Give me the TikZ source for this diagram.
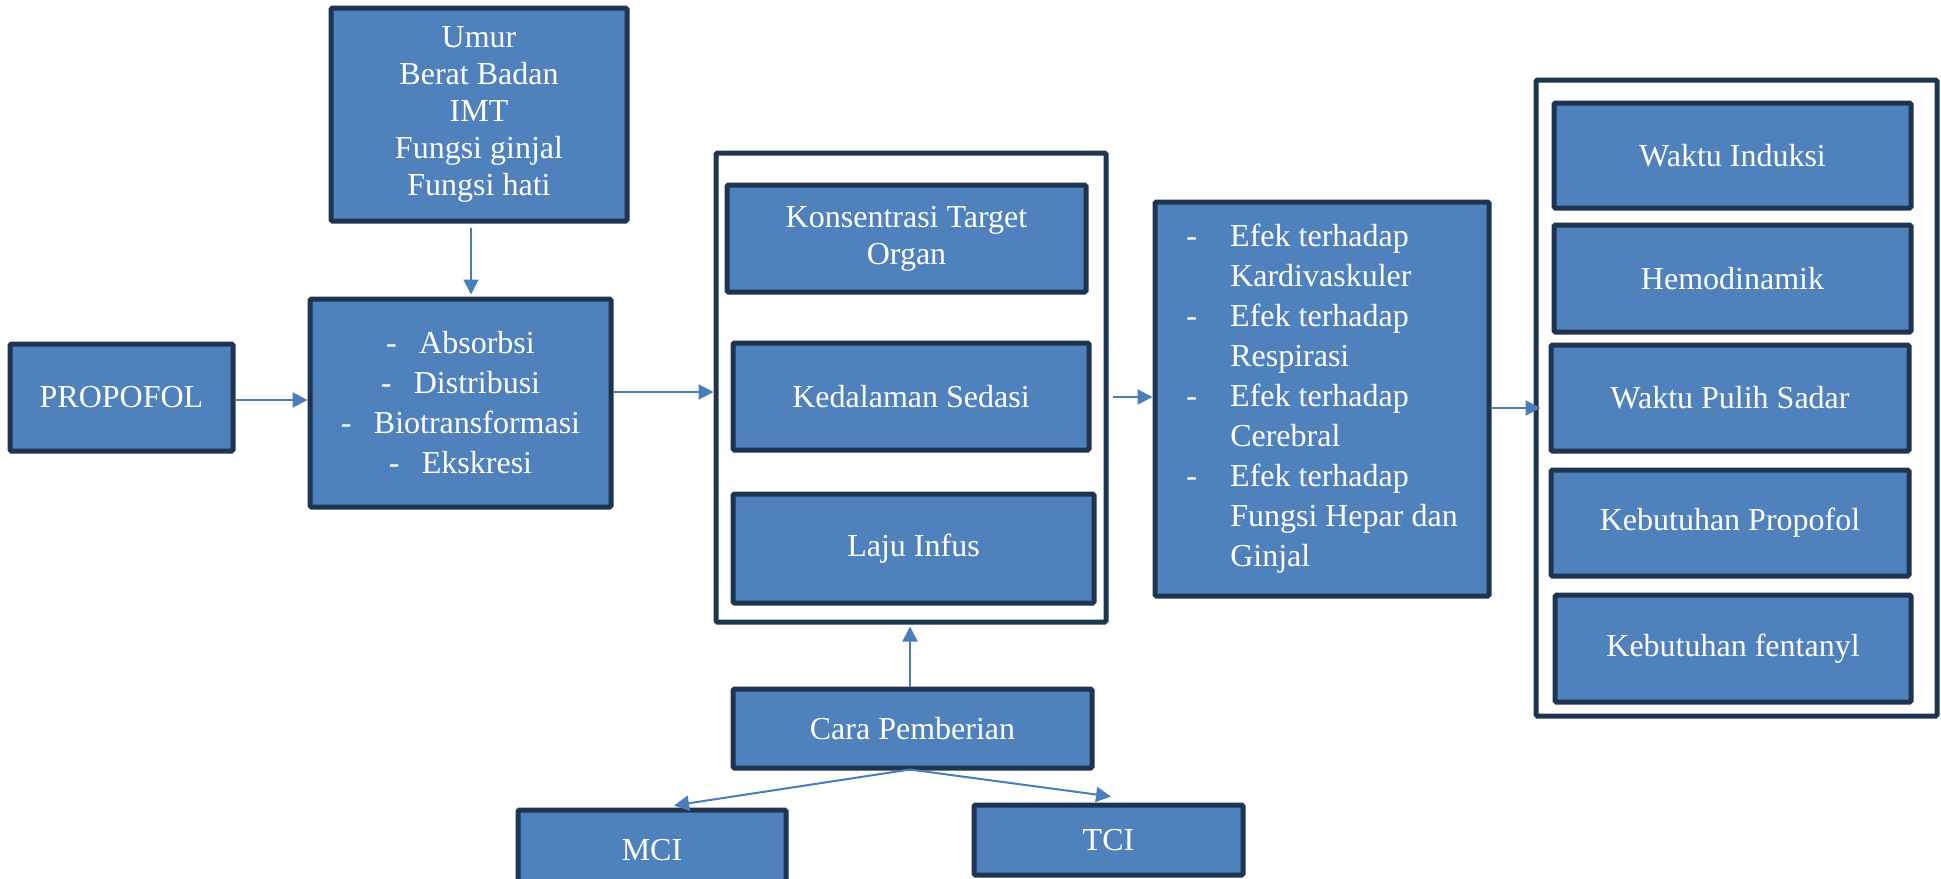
\documentclass[tikz,border=0pt]{standalone}
\usepackage{fontspec}
\setmainfont{Liberation Serif}
\usetikzlibrary{arrows.meta,calc}
\definecolor{boxfill}{HTML}{4F81BD}
\definecolor{boxline}{HTML}{1F3451}
\definecolor{arrcol}{HTML}{4A7EBB}
\tikzset{
  bx/.style={draw=boxline, fill=boxfill, line width=2.5pt, rounded corners=0.75pt, text=white, align=center,
    font=\fontsize{16pt}{18.5pt}\selectfont, inner sep=0pt},
  wide/.style={font=\fontsize{16pt}{20pt}\selectfont},
  frame/.style={draw=boxline, fill=white, line width=2.5pt, rounded corners=0.75pt},
  arr/.style={draw=arrcol, line width=1pt, -{Triangle[length=7.5pt,width=7.5pt]}}
}
\begin{document}
\begin{tikzpicture}[x=0.5pt,y=-0.5pt]
\useasboundingbox (0,0) rectangle (1941,878);
\clip (0,0) rectangle (1941,878);
% containers
\node[frame, minimum width=195pt, minimum height=234.5pt] (c1) at (911,387.5) {};
\node[frame, minimum width=200.5pt, minimum height=318pt] (c3) at (1736.5,398) {};
% left boxes
\node[bx, minimum width=148pt, minimum height=106.5pt] (umur) at (479,114.5)
  {Umur\\Berat Badan\\IMT\\Fungsi ginjal\\Fungsi hati};
\node[bx, minimum width=111.5pt, minimum height=53.5pt] (prop) at (121.5,397.5) {PROPOFOL};
\node[bx, wide, minimum width=150.5pt, minimum height=104pt] (abs) at (460.5,403)
  {-\hspace{0.7em}Absorbsi\\-\hspace{0.7em}Distribusi\\-\hspace{0.7em}Biotransformasi\\-\hspace{0.7em}Ekskresi};
% middle column
\node[bx, minimum width=179.5pt, minimum height=53.5pt] (kons) at (906.5,238.5) {Konsentrasi Target\\Organ};
\node[bx, minimum width=178pt, minimum height=53.5pt] (keda) at (911,396.5) {Kedalaman Sedasi};
\node[bx, minimum width=180.5pt, minimum height=54.5pt] (laju) at (913.5,548.5) {Laju Infus};
% effects
\node[bx, wide, align=left, minimum width=167pt, minimum height=197pt] (efek) at (1322,399)
  {\makebox[22pt][l]{-}Efek terhadap\\\hspace*{22pt}Kardivaskuler\\
   \makebox[22pt][l]{-}Efek terhadap\\\hspace*{22pt}Respirasi\\
   \makebox[22pt][l]{-}Efek terhadap\\\hspace*{22pt}Cerebral\\
   \makebox[22pt][l]{-}Efek terhadap\\\hspace*{22pt}Fungsi Hepar dan\\\hspace*{22pt}Ginjal};
% outcomes
\node[bx, minimum width=178.5pt, minimum height=52.5pt] (wi) at (1732.5,155.5) {Waktu Induksi};
\node[bx, minimum width=178.5pt, minimum height=53.5pt] (hemo) at (1732.5,278.5) {Hemodinamik};
\node[bx, minimum width=179pt, minimum height=53pt] (wps) at (1730,398) {Waktu Pulih Sadar};
\node[bx, minimum width=179pt, minimum height=53pt] (kp) at (1730,523) {Kebutuhan Propofol};
\node[bx, minimum width=178pt, minimum height=53.5pt] (kf) at (1733,648.5) {Kebutuhan fentanyl};
% bottom
\node[bx, minimum width=179.5pt, minimum height=39.5pt] (cara) at (912.5,728.5) {Cara Pemberian};
\node[bx, minimum width=134pt, minimum height=40pt] (mci) at (652,850) {MCI};
\node[bx, minimum width=134.5pt, minimum height=35pt] (tci) at (1108.5,840) {TCI};
% arrows
\draw[arr] ([xshift=-4pt,yshift=-2pt]umur.south) -- ([xshift=5.25pt,yshift=1pt]abs.north);
\draw[arr] ([yshift=-1.25pt]prop.east) -- ([yshift=1.5pt]abs.west);
\draw[arr] ([yshift=5.5pt]abs.east) -- ([yshift=-2.25pt]c1.west);
\draw[arr] ([xshift=2pt,yshift=-4.75pt]c1.east) -- ([yshift=1pt]efek.west);
\draw[arr] ([yshift=-4.5pt]efek.east) -- ([xshift=3.5pt,yshift=-5pt]c3.west);
\draw[arr] ([xshift=-1.25pt]cara.north) -- ([xshift=-0.5pt,yshift=-1pt]c1.south);
\draw[arr] ([xshift=-1.25pt,yshift=0.5pt]cara.south) -- ([xshift=11pt,yshift=1pt]mci.north);
\draw[arr] ([xshift=-1.25pt,yshift=0.5pt]cara.south) -- ([xshift=1.25pt,yshift=3pt]tci.north);
\end{tikzpicture}
\end{document}
